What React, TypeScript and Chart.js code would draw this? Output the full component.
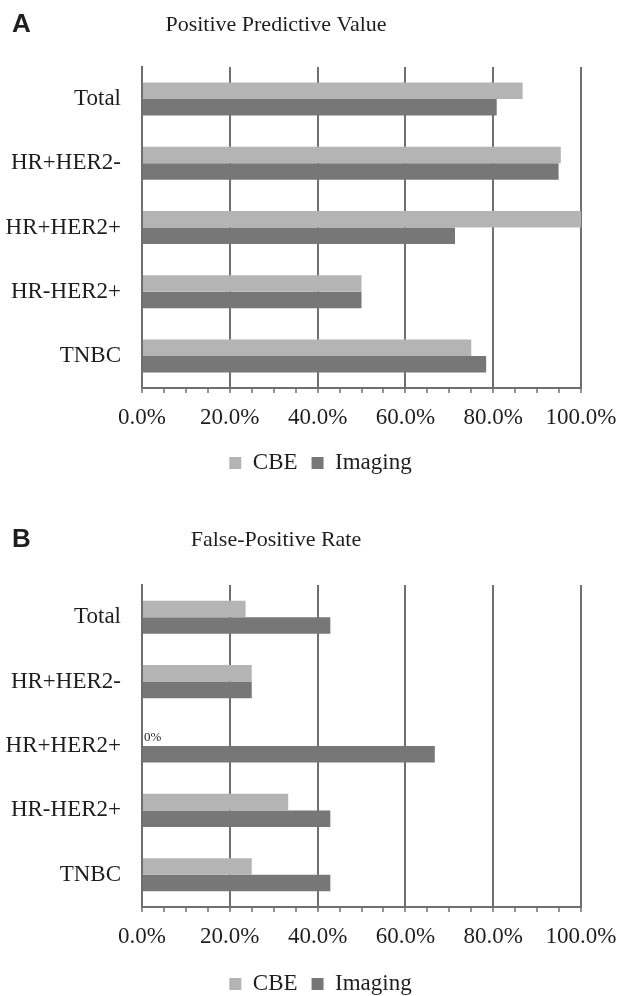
import React, { useEffect, useRef } from 'react';
import { Chart, registerables } from 'chart.js';

Chart.register(...registerables);

const categories = ['Total', 'HR+HER2-', 'HR+HER2+', 'HR-HER2+', 'TNBC'];
const seriesNames = ['CBE', 'Imaging'];
const ppvCBE = [86.7, 95.4, 100, 50, 75];
const ppvImaging = [80.8, 94.9, 71.3, 50, 78.4];
const fprCBE = [23.6, 25, 0, 33.3, 25];
const fprImaging = [42.9, 25, 66.7, 42.9, 42.9];
const panelLetters = ['A', 'B'];
const panelTitles = ['Positive Predictive Value', 'False-Positive Rate'];

const SERIF = "'Liberation Serif', 'Times New Roman', serif";
const SANS = "'Liberation Sans', Arial, sans-serif";
const GRID = '#6f6f6f';
const TEXT = '#1e1e1e';
const COLORS = ['#b4b4b4', '#777777'];

const panelTitlePlugin = {
  id: 'panelTitle',
  afterLayout(chart: any) {
    // shift legend slightly right, as in the reference
    if (chart.legend) {
      chart.legend.left += 6;
      chart.legend.right += 6;
    }
  },
  afterDraw(chart: any, _args: any, opts: any) {
    const ctx = chart.ctx;
    ctx.save();
    ctx.fillStyle = TEXT;
    ctx.textBaseline = 'alphabetic';
    ctx.textAlign = 'left';
    ctx.font = `bold 26px ${SANS}`;
    ctx.fillText(opts.letter, 12, opts.baseline + 1);
    ctx.textAlign = 'center';
    ctx.font = `22px ${SERIF}`;
    ctx.fillText(opts.text, 276, opts.baseline);
    ctx.restore();
  },
};

const zeroLabelPlugin = {
  id: 'zeroLabel',
  afterDatasetsDraw(chart: any) {
    const ctx = chart.ctx;
    chart.data.datasets.forEach((ds: any, di: number) => {
      const meta = chart.getDatasetMeta(di);
      meta.data.forEach((bar: any, i: number) => {
        if (ds.data[i] === 0) {
          ctx.save();
          ctx.font = `13px ${SERIF}`;
          ctx.fillStyle = TEXT;
          ctx.textBaseline = 'middle';
          ctx.textAlign = 'left';
          ctx.fillText('0%', bar.x + 2, bar.y);
          ctx.restore();
        }
      });
    });
  },
};

type PanelProps = {
  idx: number;
  cbe: number[];
  img: number[];
  top: number;
  height: number;
  baseline: number;
  axisH: number;
  legendH: number;
};

function BarPanel({ idx, cbe, img, top, height, baseline, axisH, legendH }: PanelProps) {
  const ref = useRef<HTMLCanvasElement>(null);
  useEffect(() => {
    const canvas = ref.current!;
    const chart = new Chart(canvas, {
      type: 'bar',
      data: {
        labels: categories,
        datasets: [
          { label: seriesNames[0], data: cbe, backgroundColor: COLORS[0], borderWidth: 0 },
          { label: seriesNames[1], data: img, backgroundColor: COLORS[1], borderWidth: 0 },
        ],
      },
      options: {
        indexAxis: 'y',
        responsive: false,
        animation: false,
        devicePixelRatio: 1,
        events: [],
        layout: { padding: { top: 67, right: 0, left: 0, bottom: 0 } },
        datasets: { bar: { categoryPercentage: 0.514, barPercentage: 1 } },
        scales: {
          x: {
            type: 'linear',
            min: 0,
            max: 100,
            position: 'bottom',
            afterFit: (s: any) => {
              s.height = axisH;
              s.paddingRight = 48;
            },
            ticks: {
              stepSize: 5,
              autoSkip: false,
              maxRotation: 0,
              padding: 11,
              color: TEXT,
              font: { family: SERIF, size: 23 },
              callback: (v: any) => (Number(v) % 20 === 0 ? Number(v).toFixed(1) + '%' : ''),
            },
            grid: {
              color: (c: any) => (c.tick && c.tick.value % 20 === 0 ? GRID : 'rgba(0,0,0,0)'),
              lineWidth: 2,
              tickColor: GRID,
              tickLength: 5,
              tickWidth: 1.5,
            },
            border: { display: true, color: GRID, width: 2 },
          },
          y: {
            afterFit: (s: any) => {
              s.width = 142;
            },
            ticks: {
              padding: 21,
              color: TEXT,
              font: { family: SERIF, size: 23 },
            },
            grid: { display: false, drawTicks: false },
            border: { display: true, color: GRID, width: 2 },
          },
        },
        plugins: {
          legend: {
            position: 'bottom',
            maxHeight: legendH,
            labels: {
              boxWidth: 12,
              boxHeight: 12,
              padding: 14,
              color: TEXT,
              font: { family: SERIF, size: 23 },
            },
          },
          tooltip: { enabled: false },
          title: { display: false },
          panelTitle: { letter: panelLetters[idx], text: panelTitles[idx], baseline },
        } as any,
      },
      plugins: [panelTitlePlugin, zeroLabelPlugin],
    });
    return () => chart.destroy();
  }, []);
  return (
    <canvas
      ref={ref}
      width={629}
      height={height}
      style={{ position: 'absolute', left: 0, top, width: 629, height, display: 'block' }}
    />
  );
}

export default function App() {
  return (
    <div
      style={{
        position: 'absolute',
        left: 0,
        top: 0,
        width: 629,
        height: 996,
        overflow: 'hidden',
        background: '#ffffff',
      }}
    >
      <BarPanel idx={0} cbe={ppvCBE} img={ppvImaging} top={0} height={477} baseline={31} axisH={49.5} legendH={39.5} />
      <BarPanel idx={1} cbe={fprCBE} img={fprImaging} top={518} height={478} baseline={28} axisH={51.5} legendH={37.5} />
    </div>
  );
}
